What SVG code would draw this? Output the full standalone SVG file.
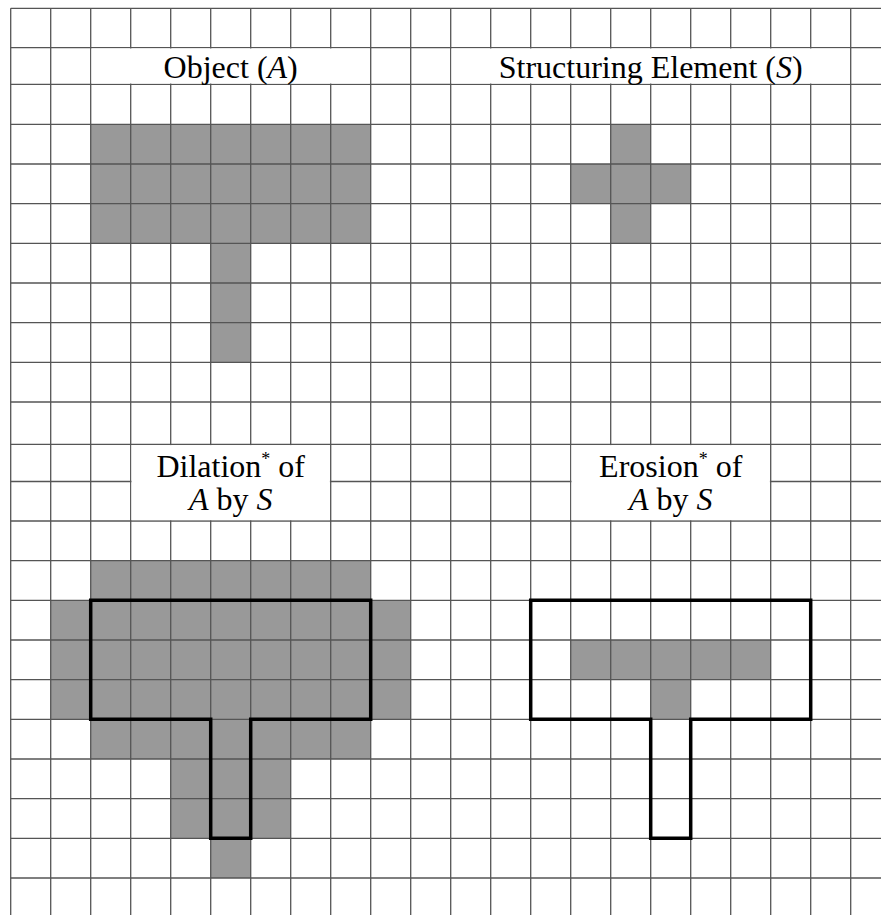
<svg xmlns="http://www.w3.org/2000/svg" width="881" height="915" viewBox="0 0 881 915">
  <style>
    .cell { fill: #999999; }
    .grid line { stroke: #555555; stroke-width: 1.3; }
    .label-bg { fill: #ffffff; }
    .outline { fill: none; stroke: #000000; stroke-width: 3.5; stroke-linejoin: miter; }
    .label { font-family: "Liberation Serif", "Times New Roman", serif; font-size: 32px; fill: #000000; text-anchor: middle; }
    .it { font-style: italic; }
  </style>

  <rect x="0" y="0" width="881" height="915" fill="#ffffff"/>

  <!-- filled pixels -->
  <g id="object-A">
    <rect class="cell" x="90.7" y="124.3" width="280" height="119"/>
    <rect class="cell" x="210.7" y="243.3" width="40" height="119"/>
  </g>
  <g id="structuring-element-S">
    <rect class="cell" x="570.7" y="164" width="120" height="39.6"/>
    <rect class="cell" x="610.7" y="124.3" width="40" height="119"/>
  </g>
  <g id="dilation-result">
    <rect class="cell" x="90.7" y="560.7" width="280" height="198.3"/>
    <rect class="cell" x="50.7" y="600.3" width="360" height="119"/>
    <rect class="cell" x="170.7" y="719.3" width="120" height="119"/>
    <rect class="cell" x="210.7" y="838.3" width="40" height="39.7"/>
  </g>
  <g id="erosion-result">
    <rect class="cell" x="570.7" y="640" width="200" height="39.7"/>
    <rect class="cell" x="650.7" y="679.7" width="40" height="39.6"/>
  </g>

  <!-- pixel grid -->
  <g id="grid" class="grid">
    <line x1="10.7" y1="8.3" x2="10.7" y2="915"/>
    <line x1="50.7" y1="8.3" x2="50.7" y2="915"/>
    <line x1="90.7" y1="8.3" x2="90.7" y2="915"/>
    <line x1="130.7" y1="8.3" x2="130.7" y2="915"/>
    <line x1="170.7" y1="8.3" x2="170.7" y2="915"/>
    <line x1="210.7" y1="8.3" x2="210.7" y2="915"/>
    <line x1="250.7" y1="8.3" x2="250.7" y2="915"/>
    <line x1="290.7" y1="8.3" x2="290.7" y2="915"/>
    <line x1="330.7" y1="8.3" x2="330.7" y2="915"/>
    <line x1="370.7" y1="8.3" x2="370.7" y2="915"/>
    <line x1="410.7" y1="8.3" x2="410.7" y2="915"/>
    <line x1="450.7" y1="8.3" x2="450.7" y2="915"/>
    <line x1="490.7" y1="8.3" x2="490.7" y2="915"/>
    <line x1="530.7" y1="8.3" x2="530.7" y2="915"/>
    <line x1="570.7" y1="8.3" x2="570.7" y2="915"/>
    <line x1="610.7" y1="8.3" x2="610.7" y2="915"/>
    <line x1="650.7" y1="8.3" x2="650.7" y2="915"/>
    <line x1="690.7" y1="8.3" x2="690.7" y2="915"/>
    <line x1="730.7" y1="8.3" x2="730.7" y2="915"/>
    <line x1="770.7" y1="8.3" x2="770.7" y2="915"/>
    <line x1="810.7" y1="8.3" x2="810.7" y2="915"/>
    <line x1="850.7" y1="8.3" x2="850.7" y2="915"/>

    <line x1="10.7" y1="8.3" x2="881" y2="8.3"/>
    <line x1="10.7" y1="47.7" x2="881" y2="47.7"/>
    <line x1="10.7" y1="84.3" x2="881" y2="84.3"/>
    <line x1="10.7" y1="124.3" x2="881" y2="124.3"/>
    <line x1="10.7" y1="164" x2="881" y2="164"/>
    <line x1="10.7" y1="203.6" x2="881" y2="203.6"/>
    <line x1="10.7" y1="243.3" x2="881" y2="243.3"/>
    <line x1="10.7" y1="283" x2="881" y2="283"/>
    <line x1="10.7" y1="322.7" x2="881" y2="322.7"/>
    <line x1="10.7" y1="362.3" x2="881" y2="362.3"/>
    <line x1="10.7" y1="402" x2="881" y2="402"/>
    <line x1="10.7" y1="444.3" x2="881" y2="444.3"/>
    <line x1="10.7" y1="481.5" x2="881" y2="481.5"/>
    <line x1="10.7" y1="521" x2="881" y2="521"/>
    <line x1="10.7" y1="560.7" x2="881" y2="560.7"/>
    <line x1="10.7" y1="600.3" x2="881" y2="600.3"/>
    <line x1="10.7" y1="640" x2="881" y2="640"/>
    <line x1="10.7" y1="679.7" x2="881" y2="679.7"/>
    <line x1="10.7" y1="719.3" x2="881" y2="719.3"/>
    <line x1="10.7" y1="759" x2="881" y2="759"/>
    <line x1="10.7" y1="798.7" x2="881" y2="798.7"/>
    <line x1="10.7" y1="838.3" x2="881" y2="838.3"/>
    <line x1="10.7" y1="878" x2="881" y2="878"/>
  </g>

  <!-- original shape outlines -->
  <g id="outlines">
    <path class="outline" d="M90.7,600.3 H370.7 V719.3 H250.7 V838.3 H210.7 V719.3 H90.7 Z"/>
    <path class="outline" d="M530.7,600.3 H810.7 V719.3 H690.7 V838.3 H650.7 V719.3 H530.7 Z"/>
  </g>

  <!-- titles -->
  <g id="title-object">
    <rect class="label-bg" x="91.5" y="48.5" width="278.4" height="35"/>
    <text class="label" x="230.7" y="77.5">Object (<tspan class="it">A</tspan>)</text>
  </g>
  <g id="title-structuring-element">
    <rect class="label-bg" x="451.5" y="48.5" width="398.4" height="35"/>
    <text class="label" x="650.7" y="77.5">Structuring Element (<tspan class="it">S</tspan>)</text>
  </g>
  <g id="title-dilation">
    <rect class="label-bg" x="131.5" y="445.1" width="198.4" height="75.1"/>
    <text class="label" x="230.7" y="476.7">Dilation<tspan font-size="18" dy="-12">*</tspan><tspan dy="12"> of</tspan></text>
    <text class="label" x="230.7" y="510"><tspan class="it">A</tspan> by <tspan class="it">S</tspan></text>
  </g>
  <g id="title-erosion">
    <rect class="label-bg" x="571.5" y="445.1" width="198.4" height="75.1"/>
    <text class="label" x="670.7" y="476.7">Erosion<tspan font-size="18" dy="-12">*</tspan><tspan dy="12"> of</tspan></text>
    <text class="label" x="670.7" y="510"><tspan class="it">A</tspan> by <tspan class="it">S</tspan></text>
  </g>
</svg>
